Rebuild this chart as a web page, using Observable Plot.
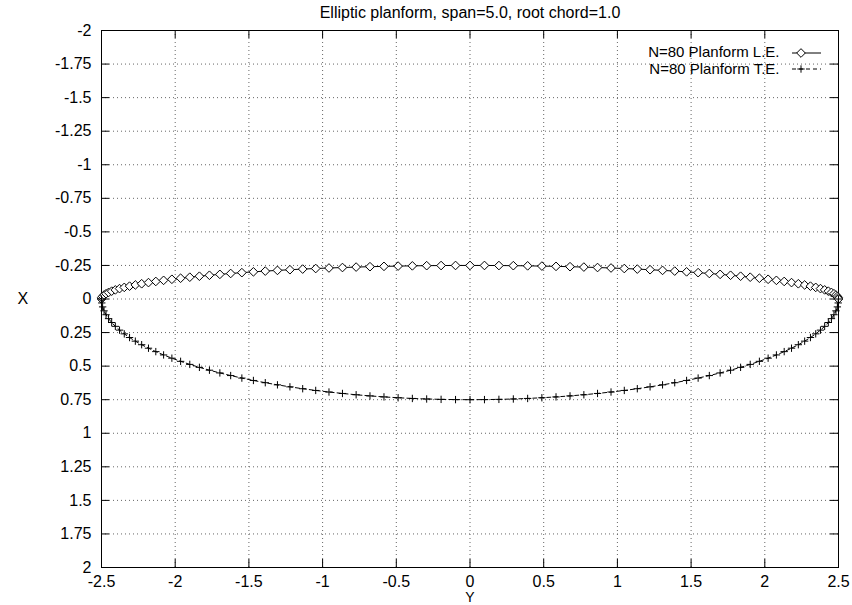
<!DOCTYPE html>
<html>
<head>
<meta charset="utf-8">
<script src="https://cdn.jsdelivr.net/npm/d3@7"></script>
<script src="https://cdn.jsdelivr.net/npm/@observablehq/plot@0.6"></script>
<style>
  html, body { margin: 0; padding: 0; background: #fff; }
</style>
</head>
<body>
<div id="chart"></div>
<script>
// ---- data ----
const title = "Elliptic planform, span=5.0, root chord=1.0";
const seriesNames = ["N=80 Planform L.E.", "N=80 Planform T.E."];

// spanwise stations (horizontal axis "Y")
const spanY = [
  -2.5, -2.4981, -2.4923, -2.4827, -2.4692, -2.4520, -2.4309, -2.4061, -2.3776, -2.3455,
  -2.3097, -2.2704, -2.2275, -2.1813, -2.1316, -2.0787, -2.0225, -1.9633, -1.9010, -1.8358,
  -1.7678, -1.6970, -1.6236, -1.5477, -1.4695, -1.3889, -1.3063, -1.2216, -1.1350, -1.0467,
  -0.9567, -0.8653, -0.7725, -0.6786, -0.5836, -0.4877, -0.3911, -0.2939, -0.1962, -0.0981,
  0,
  0.0981, 0.1962, 0.2939, 0.3911, 0.4877, 0.5836, 0.6786, 0.7725, 0.8653, 0.9567,
  1.0467, 1.1350, 1.2216, 1.3063, 1.3889, 1.4695, 1.5477, 1.6236, 1.6970, 1.7678,
  1.8358, 1.9010, 1.9633, 2.0225, 2.0787, 2.1316, 2.1813, 2.2275, 2.2704, 2.3097,
  2.3455, 2.3776, 2.4061, 2.4309, 2.4520, 2.4692, 2.4827, 2.4923, 2.4981, 2.5
];

// leading edge X
const leadingEdgeX = [
  0, -0.0098, -0.0196, -0.0294, -0.0391, -0.0488, -0.0584, -0.0679, -0.0773, -0.0865,
  -0.0957, -0.1047, -0.1135, -0.1222, -0.1306, -0.1389, -0.1469, -0.1548, -0.1624, -0.1697,
  -0.1768, -0.1836, -0.1901, -0.1963, -0.2023, -0.2079, -0.2132, -0.2181, -0.2228, -0.2270,
  -0.2310, -0.2345, -0.2378, -0.2406, -0.2431, -0.2452, -0.2469, -0.2483, -0.2492, -0.2498,
  -0.25,
  -0.2498, -0.2492, -0.2483, -0.2469, -0.2452, -0.2431, -0.2406, -0.2378, -0.2345, -0.2310,
  -0.2270, -0.2228, -0.2181, -0.2132, -0.2079, -0.2023, -0.1963, -0.1901, -0.1836, -0.1768,
  -0.1697, -0.1624, -0.1548, -0.1469, -0.1389, -0.1306, -0.1222, -0.1135, -0.1047, -0.0957,
  -0.0865, -0.0773, -0.0679, -0.0584, -0.0488, -0.0391, -0.0294, -0.0196, -0.0098, 0
];

// trailing edge X
const trailingEdgeX = [
  0, 0.0294, 0.0588, 0.0882, 0.1173, 0.1463, 0.1751, 0.2036, 0.2318, 0.2596,
  0.2870, 0.3140, 0.3405, 0.3665, 0.3919, 0.4167, 0.4408, 0.4643, 0.4871, 0.5091,
  0.5303, 0.5507, 0.5703, 0.5890, 0.6068, 0.6236, 0.6395, 0.6544, 0.6683, 0.6811,
  0.6929, 0.7036, 0.7133, 0.7218, 0.7293, 0.7356, 0.7408, 0.7448, 0.7477, 0.7494,
  0.75,
  0.7494, 0.7477, 0.7448, 0.7408, 0.7356, 0.7293, 0.7218, 0.7133, 0.7036, 0.6929,
  0.6811, 0.6683, 0.6544, 0.6395, 0.6236, 0.6068, 0.5890, 0.5703, 0.5507, 0.5303,
  0.5091, 0.4871, 0.4643, 0.4408, 0.4167, 0.3919, 0.3665, 0.3405, 0.3140, 0.2870,
  0.2596, 0.2318, 0.2036, 0.1751, 0.1463, 0.1173, 0.0882, 0.0588, 0.0294, 0
];

const xTicks = [-2.5, -2, -1.5, -1, -0.5, 0, 0.5, 1, 1.5, 2, 2.5];
const xTickLabels = ["-2.5", "-2", "-1.5", "-1", "-0.5", "0", "0.5", "1", "1.5", "2", "2.5"];
const yTicks = [-2, -1.75, -1.5, -1.25, -1, -0.75, -0.5, -0.25, 0, 0.25, 0.5, 0.75, 1, 1.25, 1.5, 1.75, 2];
const yTickLabels = ["-2", "-1.75", "-1.5", "-1.25", "-1", "-0.75", "-0.5", "-0.25", "0", "0.25", "0.5", "0.75", "1", "1.25", "1.5", "1.75", "2"];
const xAxisTitle = "Y";
const yAxisTitle = "X";

// ---- layout ----
const W = 852, H = 605;
const mL = 101, mR = 14, mT = 30, mB = 38;
const frameW = W - mL - mR, frameH = H - mT - mB;
const tickLen = 8;
const font = "'Liberation Sans', Arial, Helvetica, sans-serif";

const rows = spanY.map((s, i) => ({span: s, le: leadingEdgeX[i], te: trailingEdgeX[i]}));

const gridStyle = {stroke: "#666", strokeDasharray: "1,3", strokeWidth: 1};

const plot = Plot.plot({
  width: W,
  height: H,
  marginLeft: mL,
  marginRight: mR,
  marginTop: mT,
  marginBottom: mB,
  style: {fontFamily: font, fontSize: "16px", background: "#fff", color: "#000"},
  x: {
    domain: [-2.5, 2.5],
    ticks: xTicks,
    tickFormat: d => xTickLabels[xTicks.indexOf(d)],
    tickSize: 0,
    tickPadding: 8,
    label: null
  },
  y: {
    domain: [-2, 2],
    reverse: true,
    ticks: yTicks,
    tickFormat: d => yTickLabels[yTicks.indexOf(d)],
    tickSize: 0,
    tickPadding: 10,
    label: null
  },
  marks: [
    // dotted grid
    Plot.ruleX(xTicks, {x: d => d, ...gridStyle}),
    Plot.ruleY(yTicks, {y: d => d, ...gridStyle}),
    // inward ticks on all four sides
    Plot.ruleX(xTicks, {x: d => d, insetTop: frameH - tickLen, stroke: "#000"}),
    Plot.ruleX(xTicks, {x: d => d, insetBottom: frameH - tickLen, stroke: "#000"}),
    Plot.ruleY(yTicks, {y: d => d, insetRight: frameW - tickLen, stroke: "#000"}),
    Plot.ruleY(yTicks, {y: d => d, insetLeft: frameW - tickLen, stroke: "#000"}),
    Plot.frame({stroke: "#000", strokeWidth: 1}),
    // leading edge
    Plot.line(rows, {x: "span", y: "le", stroke: "#000", strokeWidth: 1}),
    Plot.dot(rows, {x: "span", y: "le", symbol: "diamond2", r: 3.9, stroke: "#000", fill: "#fff", strokeWidth: 1}),
    // trailing edge
    Plot.line(rows, {x: "span", y: "te", stroke: "#000", strokeWidth: 1, strokeDasharray: "4,3"}),
    Plot.dot(rows, {x: "span", y: "te", symbol: "plus", r: 2.5, stroke: "#000", strokeWidth: 1}),
    // title and axis titles
    Plot.text([title], {text: d => d, frameAnchor: "top", lineAnchor: "middle", dy: -18, fontSize: 16}),
    Plot.text([xAxisTitle], {text: d => d, frameAnchor: "bottom", lineAnchor: "middle", dy: 30.5, fontSize: 14}),
    Plot.text([yAxisTitle], {text: d => d, frameAnchor: "left", lineAnchor: "middle", dx: -84, fontSize: 16}),
    // legend labels
    Plot.text([seriesNames[0]], {text: d => d, frameAnchor: "top-right", lineAnchor: "middle", textAnchor: "end", dx: -59, dy: 22, fontSize: 15}),
    Plot.text([seriesNames[1]], {text: d => d, frameAnchor: "top-right", lineAnchor: "middle", textAnchor: "end", dx: -59, dy: 39, fontSize: 15})
  ]
});

// legend samples (line + symbol), drawn next to the legend labels
const svg = d3.select(plot);
const lg = svg.append("g").attr("fill", "none").attr("stroke", "#000").attr("stroke-width", 1);
const sx1 = W - mR - 46, sx2 = W - mR - 17, sp = W - mR - 37;
const row1 = mT + 23, row2 = mT + 39;
lg.append("line").attr("x1", sx1).attr("x2", sx2).attr("y1", row1).attr("y2", row1);
lg.append("path").attr("d", d3.symbol(d3.symbolDiamond2, Math.PI * 3.9 * 3.9)())
  .attr("transform", `translate(${sp},${row1})`).attr("fill", "#fff");
lg.append("line").attr("x1", sx1).attr("x2", sx2).attr("y1", row2).attr("y2", row2)
  .attr("stroke-dasharray", "4,3");
lg.append("path").attr("d", d3.symbol(d3.symbolPlus, Math.PI * 2.5 * 2.5)())
  .attr("transform", `translate(${sp},${row2})`);

document.getElementById("chart").appendChild(plot);
</script>
</body>
</html>
